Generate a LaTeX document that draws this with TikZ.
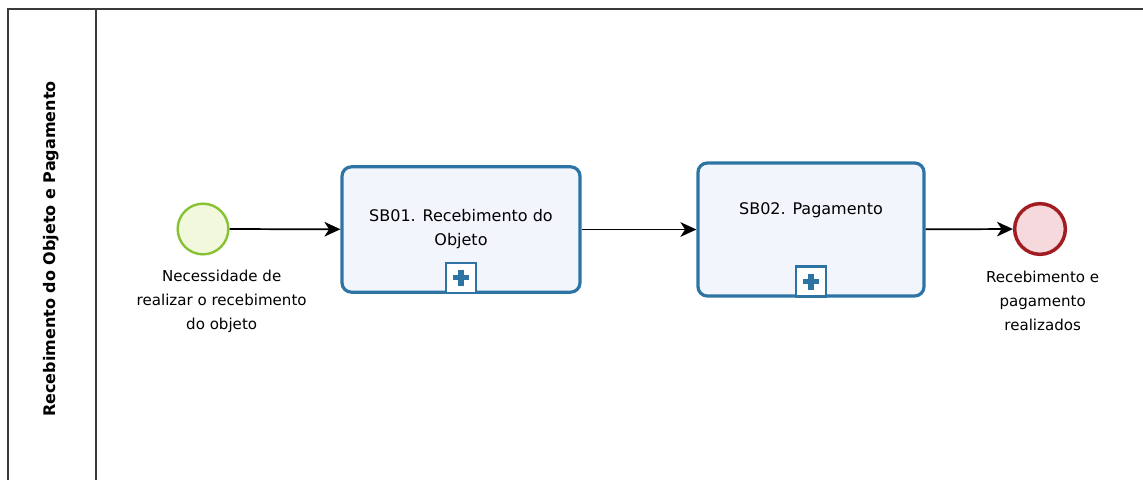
\documentclass[tikz,border=0pt]{standalone}
\usepackage{fontspec}
\setmainfont{DejaVu Sans}
\usepackage{xcolor}
\usetikzlibrary{arrows.meta, positioning}
\definecolor{taskline}{HTML}{2D74A5}
\definecolor{taskfill}{HTML}{F2F5FC}
\definecolor{startline}{HTML}{86C232}
\definecolor{startfill}{HTML}{F1F8DC}
\definecolor{endline}{HTML}{A11D21}
\definecolor{endfill}{HTML}{F6D9DC}
\definecolor{poolline}{HTML}{3A3A3A}

\begin{document}
\begin{tikzpicture}[
    x=0.75pt, y=-0.75pt,
    every node/.style={font=\fontsize{11.3}{18}\selectfont},
    task/.style={draw=taskline, line width=2.4pt, fill=taskfill, rounded corners=7pt,
      align=center, inner sep=0pt, font=\fontsize{12}{18}\selectfont},
    marker/.style={draw=taskline, line width=1.6pt, fill=white, minimum size=22.5pt,
      inner sep=0pt, anchor=south},
    startev/.style={circle, draw=startline, line width=1.8pt, fill=startfill,
      minimum size=38pt, inner sep=0pt},
    endev/.style={circle, draw=endline, line width=2.6pt, fill=endfill,
      minimum size=38pt, inner sep=0pt},
    evlabel/.style={align=center, inner sep=0pt},
    flow/.style={-{Stealth[length=12pt, width=11pt, inset=3.5pt]}, line width=1.3pt, black},
    pool/.style={draw=poolline, line width=1.5pt}
  ]
  \useasboundingbox (0,0) rectangle (1143,479);
  \clip (0,0) rectangle (1143,479);

  % pool and lane
  \draw[pool] (1160,9) -- (8,9) -- (8,495);
  \draw[pool] (96,9) -- (96,495);
  \node[rotate=90, font=\bfseries\fontsize{12}{14}\selectfont] (lane)
    at (51,249) {Recebimento do Objeto e Pagamento};

  % events and tasks
  \node[startev] (start) at (203,229) {};
  \node[task, minimum width=178.5pt, minimum height=94pt] (sb01) at (461,229.5)
    {SB01. Recebimento do\\Objeto};
  \node[task, minimum width=169.5pt, minimum height=99.75pt] (sb02) at (811,229.5) {};
  \node[font=\fontsize{12}{18}\selectfont] (sb02txt) at (811,210) {SB02. Pagamento};
  \node[endev] (end) at (1040,229) {};

  % collapsed sub-process markers
  \node[marker] (m01) at (sb01.south) {};
  \node[marker] (m02) at (sb02.south) {};
  \foreach \m in {m01, m02} {
    \draw[taskline, line width=3.8pt] ([yshift=-6pt]\m.center) -- ([yshift=6pt]\m.center);
    \draw[taskline, line width=3.8pt] ([xshift=-6pt]\m.center) -- ([xshift=6pt]\m.center);
  }

  % event labels
  \node[evlabel, below=11pt of start, xshift=14pt] (startlbl)
    {Necessidade de\\realizar o recebimento\\do objeto};
  \node[evlabel, below=11pt of end, xshift=2pt] (endlbl)
    {Recebimento e\\pagamento\\realizados};

  % sequence flows
  \draw[flow] (start) -- (sb01);
  \draw[flow] (sb01) -- (sb02);
  \draw[flow] (sb02) -- (end);
\end{tikzpicture}
\end{document}
